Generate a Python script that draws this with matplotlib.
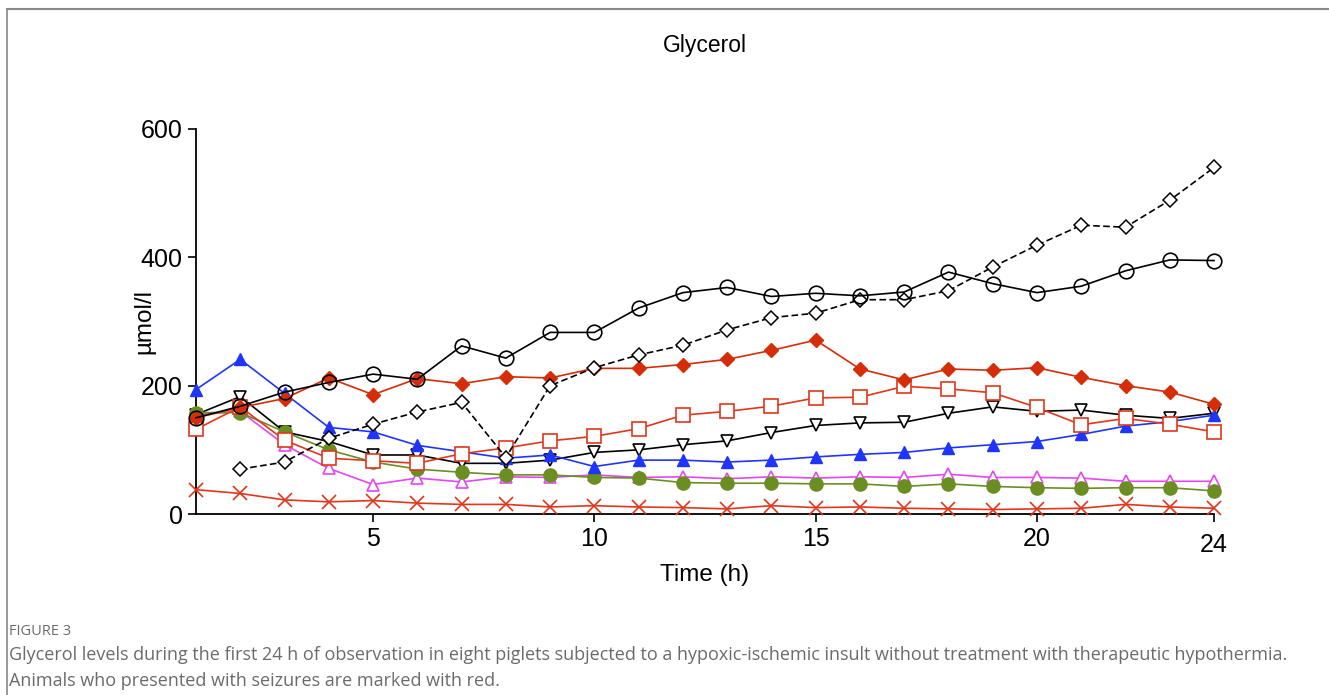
import matplotlib
matplotlib.use("Agg")
import matplotlib.pyplot as plt
from matplotlib.lines import Line2D

plt.rcParams['font.family'] = ['Liberation Sans', 'DejaVu Sans']

# time points (h)
hours = list(range(1, 25))
hours_from2 = list(range(2, 25))

# glycerol values (umol/l)
open_circle = [150, 168, 190, 205, 218, 210, 262, 243, 283, 283, 321, 345, 353, 339, 344, 340,
               346, 377, 359, 345, 355, 379, 396, 395]
open_diamond = [70, 81, 118, 140, 159, 174, 88, 200, 228, 248, 263, 287, 306, 313, 334,
                334, 348, 385, 419, 450, 447, 489, 540]
red_diamond = [150, 166, 180, 212, 186, 211, 203, 214, 212, 227, 227, 233, 241, 255, 271, 226,
               209, 226, 224, 228, 213, 200, 190, 171]
red_square = [132, 167, 115, 87, 83, 79, 94, 103, 114, 121, 133, 154, 160, 168, 181, 182,
              199, 195, 189, 166, 139, 149, 140, 128]
down_tri = [155, 183, 128, 113, 92, 92, 79, 79, 84, 96, 100, 108, 114, 127, 138, 142,
            143, 157, 167, 160, 162, 154, 149, 157]
blue_tri = [194, 241, 188, 135, 128, 107, 97, 87, 92, 74, 84, 84, 81, 84, 89, 93,
            96, 103, 108, 113, 124, 137, 144, 154]
pink_tri = [155, 160, 108, 71, 46, 56, 50, 58, 57, 61, 57, 58, 55, 58, 56, 58,
            57, 62, 57, 57, 56, 51, 51, 51]
green_dot = [158, 158, 128, 100, 81, 70, 65, 61, 61, 57, 56, 49, 48, 48, 47, 47,
             43, 47, 43, 41, 40, 41, 41, 36]
red_x = [38, 32, 22, 19, 21, 17, 15, 15, 11, 13, 11, 10, 8, 13, 10, 11,
         9, 8, 7, 8, 9, 15, 11, 9]

red = '#e2361c'
fig = plt.figure(figsize=(13.29, 6.95), dpi=100)
ax = fig.add_axes([0.1475, 0.2604, 0.766, 0.554])

ms = 8.5
ax.plot(hours, red_x, color=red, marker='x', ms=ms + 1, mew=1.2, lw=1.2, zorder=3)
ax.plot(hours, green_dot, color='#6b8e23', marker='o', ms=ms + 1, lw=1.2, zorder=3)
ax.plot(hours, pink_tri, color='#e347f2', marker='^', ms=ms, mfc='white', mew=1.2, lw=1.2, zorder=2)
ax.plot(hours, blue_tri, color='#1f35ff', marker='^', ms=ms, lw=1.2, zorder=3)
ax.plot(hours, down_tri, color='black', marker='v', ms=ms, mfc='white', mew=1.2, lw=1.2, zorder=2)
ax.plot(hours, red_square, color=red, marker='s', ms=ms + 1, mfc='white', mew=1.2, lw=1.2, zorder=3)
ax.plot(hours, red_diamond, color='#d42d08', marker='D', ms=ms - 1, lw=1.2, zorder=3)
ax.plot(hours_from2, open_diamond, color='black', marker='D', ms=ms - 1.5, mfc='white', mew=1.1,
        lw=1.2, ls=(0, (4, 2)), zorder=3)
ax.plot(hours, open_circle, color='black', marker='o', ms=ms + 2, mfc='none', mew=1.2, lw=1.2, zorder=4)

ax.set_xlim(1, 24)
ax.set_ylim(0, 600)
ax.set_xticks([5, 10, 15, 20, 24])
ax.set_yticks([0, 200, 400, 600])
ax.tick_params(labelsize=18, width=1.2, length=6, direction='out')
# "24" sits a little lower than the rest
for lab in ax.get_xticklabels():
    if lab.get_text() == '24':
        lab.set_y(-0.015)
for s in ['top', 'right']:
    ax.spines[s].set_visible(False)
for s in ['left', 'bottom']:
    ax.spines[s].set_linewidth(1.3)
for m in ax.lines:
    m.set_clip_on(False)

fig.text(0.5305, 0.935, 'Glycerol', ha='center', va='center', fontsize=16.5)
fig.text(0.5305, 0.172, 'Time (h)', ha='center', va='center', fontsize=17.5)
fig.text(0.109, 0.537, 'µmol/l', ha='center', va='center', rotation=90, fontsize=17.5)

# frame lines and caption
fig.add_artist(Line2D([0.0055, 1.0], [0.987, 0.987], color='#888888', lw=1.5))
fig.add_artist(Line2D([0.0055, 0.0055], [0.0, 0.987], color='#888888', lw=1.2))
cap = '#6b6b6b'
fig.text(0.007, 0.086, 'FIGURE 3', fontsize=10.5, color=cap, family='Open Sans')
fig.text(0.007, 0.050, 'Glycerol levels during the first 24 h of observation in eight piglets subjected to a '
         'hypoxic-ischemic insult without treatment with therapeutic hypothermia.',
         fontsize=13, color=cap, family='Open Sans')
fig.text(0.007, 0.013, 'Animals who presented with seizures are marked with red.',
         fontsize=13, color=cap, family='Open Sans')

fig.savefig('out.png', dpi=100)
